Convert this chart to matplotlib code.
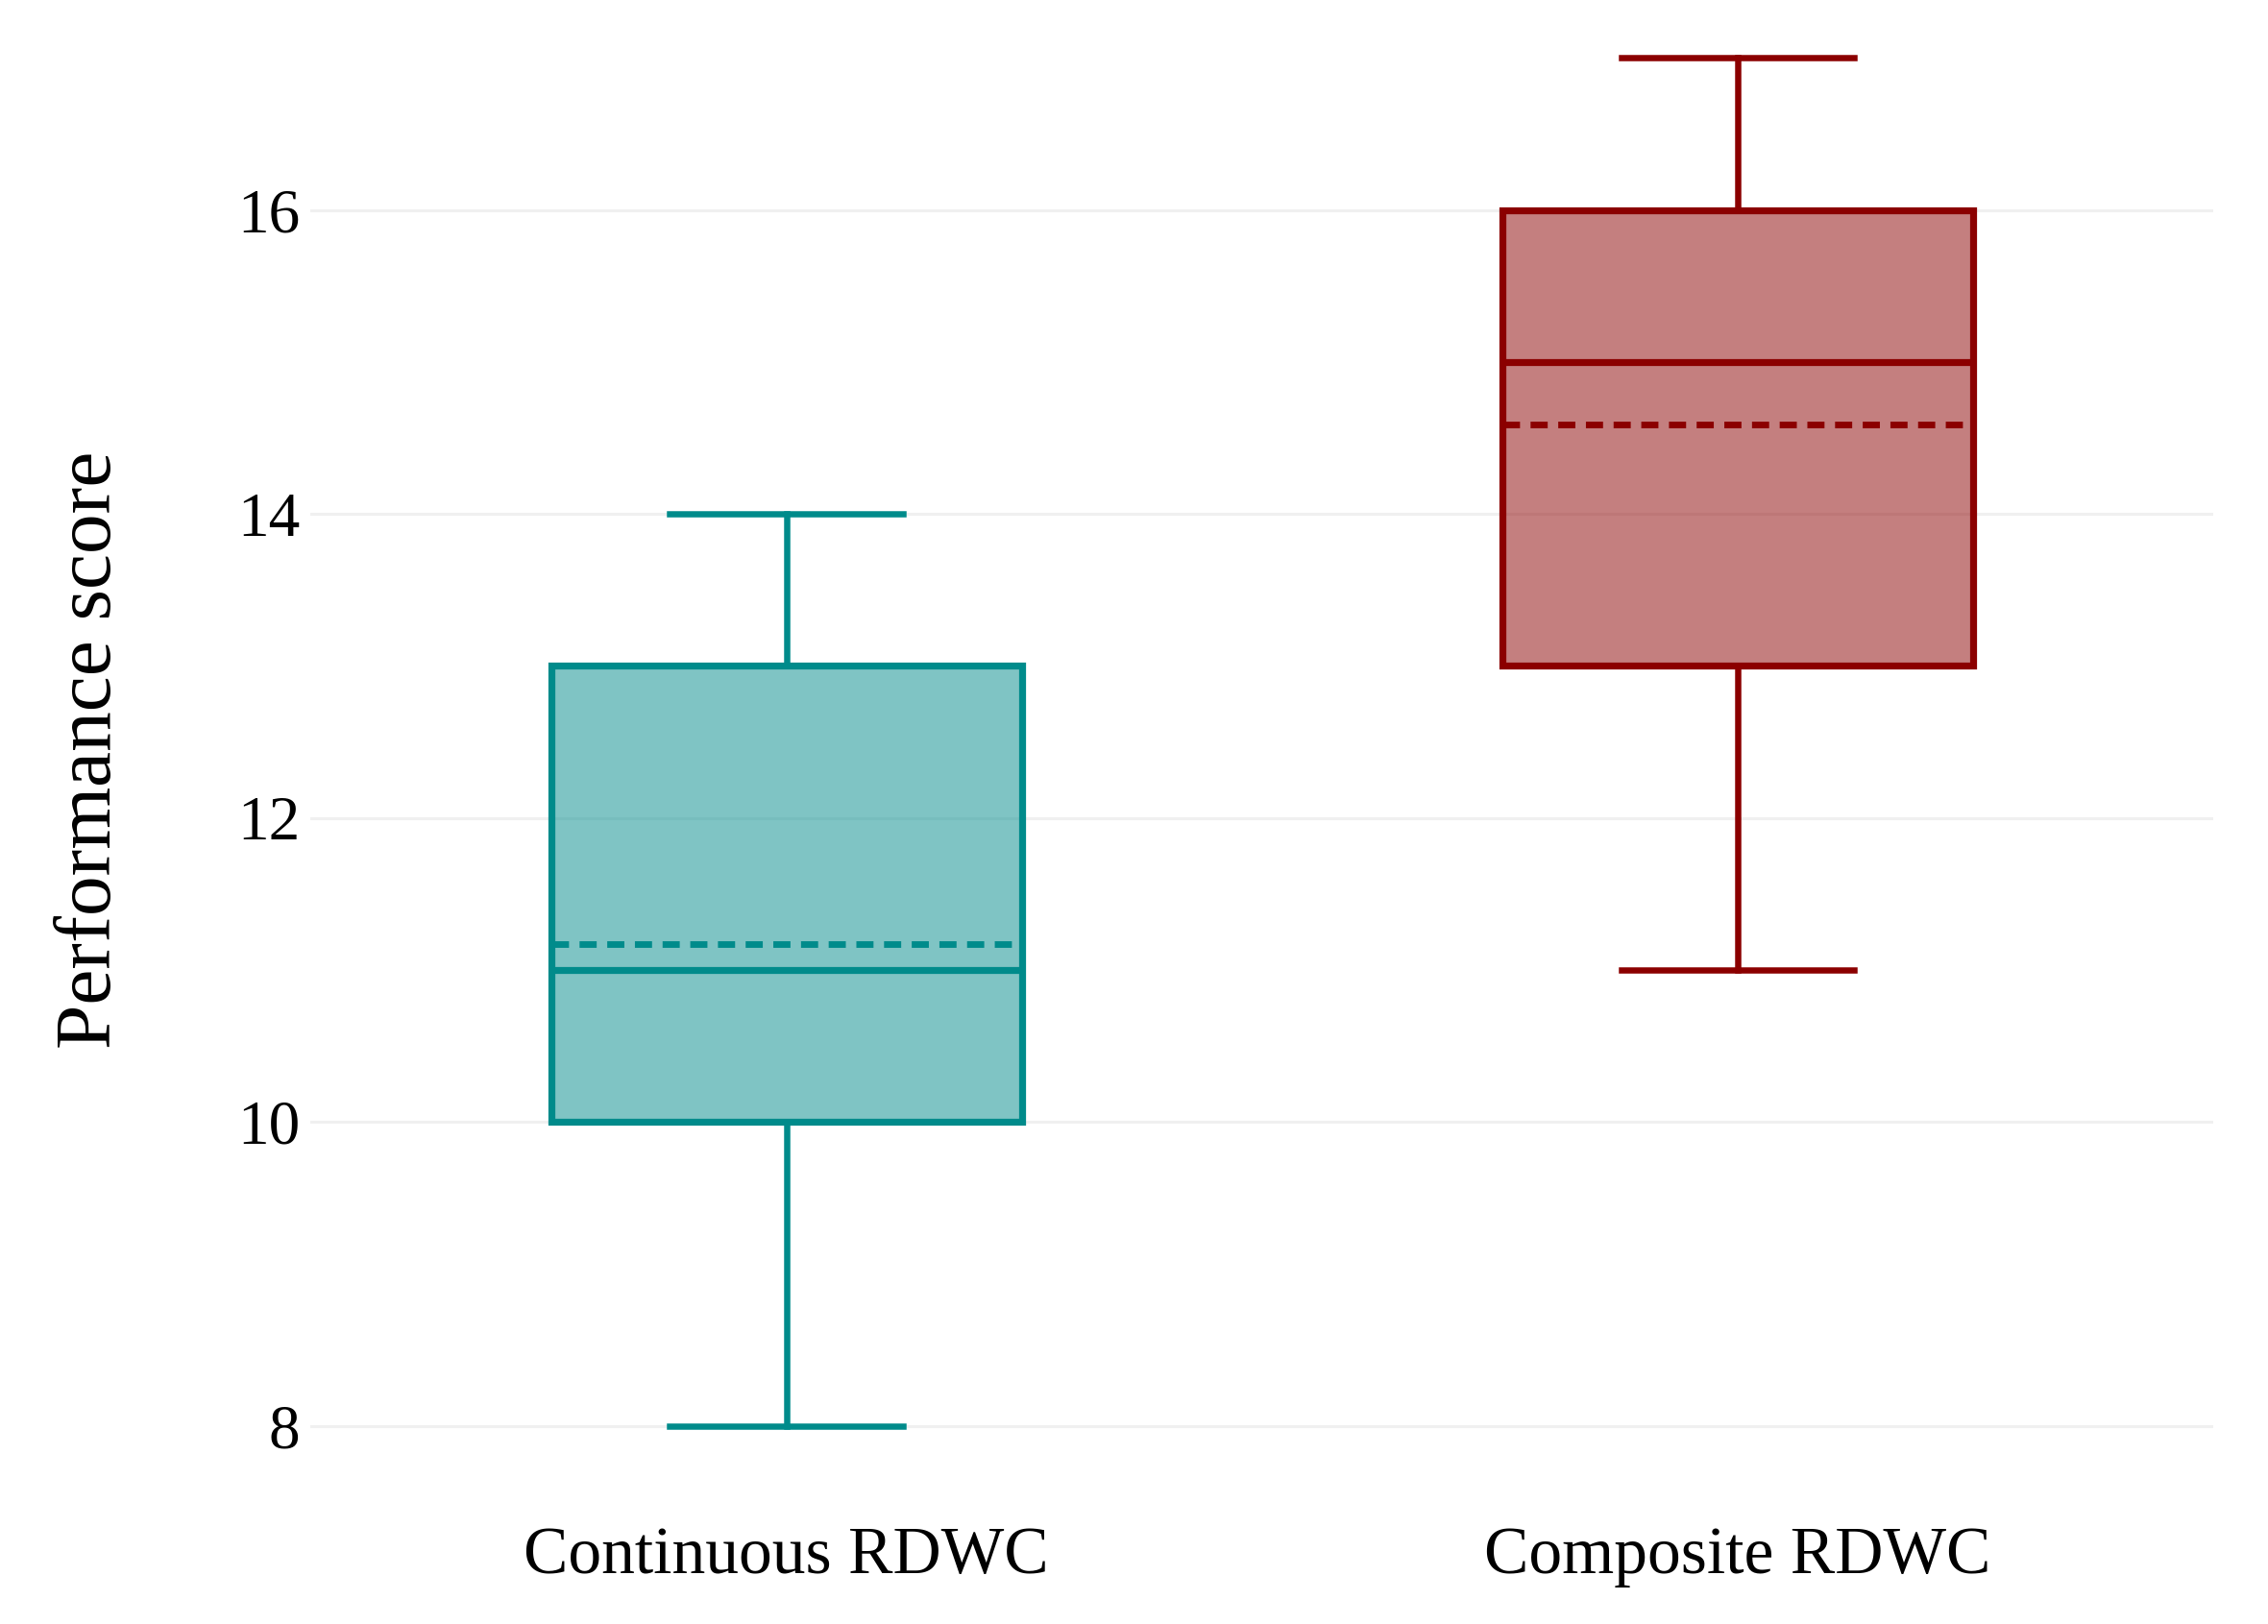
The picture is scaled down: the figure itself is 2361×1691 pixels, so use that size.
import matplotlib.pyplot as plt
import matplotlib.colors as mcolors

plt.rcParams['font.family'] = ['Liberation Serif', 'DejaVu Serif']

# Box statistics
groups = ["Continuous RDWC", "Composite RDWC"]
mins = [8, 11]
q1s = [10, 13]
medians = [11, 15]
q3s = [13, 16]
maxs = [14, 17]
means = [11.17, 14.59]
colors = ["#008B8B", "#8B0000"]

stats = []
for i, name in enumerate(groups):
    stats.append(dict(label=name, whislo=mins[i], q1=q1s[i], med=medians[i],
                      q3=q3s[i], whishi=maxs[i], mean=means[i], fliers=[]))

fig = plt.figure(figsize=(23.61, 16.91), dpi=100)
ax = fig.add_axes([0.137, 0.080, 0.839, 0.917])

lw = 5.2
for i, s in enumerate(stats):
    c = colors[i]
    fc = list(mcolors.to_rgba(c))
    fc[3] = 0.5
    ax.bxp([s], positions=[i], widths=0.495, patch_artist=True,
           showmeans=True, meanline=True, showfliers=False,
           boxprops=dict(facecolor=fc, edgecolor=c, linewidth=lw),
           medianprops=dict(color=c, linewidth=lw),
           meanprops=dict(color=c, linewidth=lw * 0.95, linestyle=(0, (2.6, 1.6))),
           whiskerprops=dict(color=c, linewidth=lw * 0.9),
           capprops=dict(color=c, linewidth=lw * 0.9),
           capwidths=0.245)

ax.set_xlim(-0.5, 1.5)
ax.set_ylim(7.55, 17.35)
ax.set_yticks([8, 10, 12, 14, 16])
ax.set_xticks([0, 1])
ax.set_xticklabels(groups)
ax.yaxis.grid(True, color="#f0f0f0", linewidth=2.2)
ax.set_axisbelow(True)
for sp in ax.spines.values():
    sp.set_visible(False)
ax.tick_params(axis='y', length=0, labelsize=47, pad=8)
ax.tick_params(axis='x', length=0, labelsize=50, pad=24)
ax.set_ylabel("Performance score", fontsize=60, labelpad=82)

plt.savefig("out.png")
